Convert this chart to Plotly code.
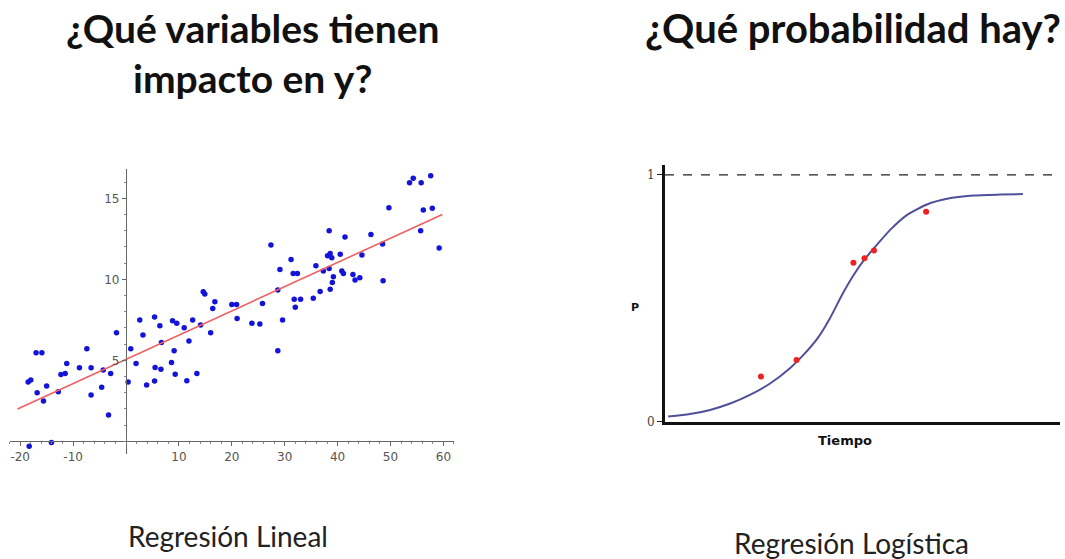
import plotly.graph_objects as go

W, H = 1065, 559

# ---------------- Left chart data (linear regression) ----------------
lin_x = [-18.5, -18.0, -17.0, -15.9, -16.8, -15.6, -15.0, -12.8, -12.3, -11.5,
         -11.2, -8.8, -7.4, -6.6, -6.6, -4.6, -4.3, -3.3, -2.9, -1.8,
         -18.3, -14.1, 0.9, 0.4, 1.9, 2.6, 3.2, 3.9, 5.4, 5.4,
         5.5, 6.4, 8.8, 9.6, 11.0, 12.6, 14.1, 14.6, 14.9, 16.8,
         16.4, 16.0, 11.9, 9.1, 6.7, 6.6, 8.6, 9.3, 11.5, 13.4,
         20.0, 20.9, 21.0, 23.8, 25.3, 25.8, 27.4, 29.1, 28.7, 29.6,
         28.7, 31.2, 31.6, 32.4, 31.8, 33.0, 32.0, 35.4, 35.9, 36.7,
         37.3, 38.1, 38.6, 38.9, 38.4, 38.4, 39.2, 39.0, 38.6, 40.5,
         40.8, 41.1, 41.4, 42.9, 43.3, 44.2, 44.6, 46.3, 48.5, 48.6,
         49.7, 53.6, 54.3, 55.8, 57.6, 55.7, 56.2, 57.9, 59.2]
lin_y = [3.66, 3.78, 5.47, 5.47, 3.00, 2.49, 3.41, 3.06, 4.13, 4.19,
         4.81, 4.54, 5.72, 4.54, 2.86, 3.33, 4.40, 1.62, 4.19, 6.70,
         -0.30, -0.08, 5.72, 3.66, 4.80, 7.49, 6.56, 3.47, 7.67, 3.72,
         4.56, 7.14, 7.44, 7.28, 7.01, 7.49, 7.18, 9.23, 9.09, 8.61,
         8.20, 6.70, 6.19, 5.59, 6.10, 4.45, 4.86, 4.14, 3.73, 4.19,
         8.45, 8.45, 7.58, 7.28, 7.24, 8.51, 12.12, 10.61, 9.34, 7.49,
         5.59, 11.22, 10.36, 10.36, 8.77, 8.77, 8.27, 8.83, 10.84, 9.24,
         10.51, 11.46, 11.60, 11.33, 13.00, 10.67, 10.16, 9.81, 9.38, 11.54,
         10.51, 10.36, 12.61, 10.30, 9.95, 10.10, 11.50, 12.76, 12.18, 9.91,
         14.42, 15.96, 16.23, 15.96, 16.39, 13.00, 14.28, 14.38, 11.93]
fit_x = [-20.5, 59.8]
fit_y = [2.0, 14.0]
lin_xticks = [-20, -10, 10, 20, 30, 40, 50, 60]
lin_xticklabels = ["-20", "-10", "10", "20", "30", "40", "50", "60"]
lin_yticks = [5, 10, 15]

# ---------------- Right chart data (logistic regression) ----------------
curve_t = [0.08, 0.63, 1.14, 1.65, 2.15, 2.66, 3.17, 3.54, 3.87, 4.18,
           4.48, 4.76, 5.04, 5.34, 5.70, 6.13, 6.63, 7.14, 7.80, 8.48,
           9.06]
curve_p = [0.020, 0.030, 0.047, 0.073, 0.108, 0.154, 0.217, 0.276, 0.339, 0.420,
           0.513, 0.590, 0.655, 0.712, 0.777, 0.838, 0.880, 0.903, 0.916, 0.920,
           0.922]
obs_t = [2.43, 3.33, 4.77, 5.05, 5.29, 6.61]
obs_p = [0.182, 0.249, 0.644, 0.662, 0.693, 0.850]
log_yticks = [0, 1]

# ---------------- geometry helpers ----------------
def px(v):
    return v / W

def py(v):
    return 1 - v / H

fig = go.Figure()

# left scatter
fig.add_trace(go.Scatter(x=lin_x, y=lin_y, mode="markers",
                         marker=dict(color="#1414d8", size=5.5),
                         xaxis="x", yaxis="y", showlegend=False))
fig.add_trace(go.Scatter(x=fit_x, y=fit_y, mode="lines",
                         line=dict(color="#f06060", width=1.6),
                         xaxis="x", yaxis="y", showlegend=False))

# right logistic
fig.add_trace(go.Scatter(x=curve_t, y=curve_p, mode="lines",
                         line=dict(color="#50509a", width=2, shape="spline", smoothing=0.6),
                         xaxis="x2", yaxis="y2", showlegend=False))
fig.add_trace(go.Scatter(x=obs_t, y=obs_p, mode="markers",
                         marker=dict(color="#ee2222", size=6),
                         xaxis="x2", yaxis="y2", showlegend=False))

# left axes: crossing at origin
xr = [-22, 62]
yr = [-0.8, 16.8]
x0_px = 126.0
sx = 5.29
y0_py = 441.3
sy = 16.2
xdom = [px(x0_px + sx * xr[0]), px(x0_px + sx * xr[1])]
ydom = [py(y0_py - sy * yr[0]), py(y0_py - sy * yr[1])]

tickfont = dict(family="DejaVu Sans", size=12, color="#555555")

fig.update_layout(
    width=W, height=H,
    margin=dict(l=0, r=0, t=0, b=0, autoexpand=False),
    paper_bgcolor="white", plot_bgcolor="rgba(0,0,0,0)",
    hovermode=False,
    xaxis=dict(domain=xdom, range=xr, anchor="free", position=py(y0_py),
               automargin=False,
               showline=True, linecolor="#666666", linewidth=1.2,
               showgrid=False, zeroline=False,
               tickvals=lin_xticks, ticktext=lin_xticklabels,
               ticks="outside", ticklen=4,
               tickcolor="#666666", tickfont=tickfont,
               minor=dict(dtick=2, ticks="outside", ticklen=2, tickcolor="#888888")),
    yaxis=dict(domain=ydom, range=yr, anchor="free", position=px(x0_px),
               automargin=False,
               showline=True, linecolor="#666666", linewidth=1.2,
               showgrid=False, zeroline=False,
               tickvals=lin_yticks, ticks="outside", ticklen=4,
               tickcolor="#666666", tickfont=tickfont,
               minor=dict(dtick=1, ticks="outside", ticklen=2, tickcolor="#888888")),
    xaxis2=dict(domain=[px(665), px(1060)], range=[0, 10], anchor="y2",
                automargin=False,
                showline=True, linecolor="#111111", linewidth=3,
                showgrid=False, zeroline=False, showticklabels=False, ticks=""),
    yaxis2=dict(domain=[py(421.5), py(165)], range=[0, 1.04], anchor="x2",
                automargin=False,
                showline=True, linecolor="#111111", linewidth=3,
                showgrid=False, zeroline=False,
                tickvals=log_yticks, ticktext=["0", "1"], ticks="outside", ticklen=5,
                tickcolor="#222222",
                tickfont=dict(family="DejaVu Serif", size=12, color="#444444")),
)

# dashed line at P = 1
fig.add_shape(type="line", xref="x2", yref="y2", x0=0, x1=10, y0=1, y1=1,
              line=dict(color="#222222", width=1.3, dash="dash"))

title_font = dict(family="Lato", size=39, color="#111111")
fig.add_annotation(text="<b>¿Qué variables tienen</b>", x=px(252), y=py(28),
                   xref="paper", yref="paper", showarrow=False, font=title_font,
                   xanchor="center", yanchor="middle")
fig.add_annotation(text="<b>impacto en y?</b>", x=px(252), y=py(78),
                   xref="paper", yref="paper", showarrow=False, font=title_font,
                   xanchor="center", yanchor="middle")
fig.add_annotation(text="<b>¿Qué probabilidad hay?</b>", x=px(853), y=py(28),
                   xref="paper", yref="paper", showarrow=False,
                   font=dict(family="Lato", size=40, color="#111111"),
                   xanchor="center", yanchor="middle")

sub_font = dict(family="Lato", size=28, color="#222222")
fig.add_annotation(text="Regresión Lineal", x=px(228), y=py(536),
                   xref="paper", yref="paper", showarrow=False, font=sub_font,
                   xanchor="center", yanchor="middle")
fig.add_annotation(text="Regresión Logística", x=px(851), y=py(543),
                   xref="paper", yref="paper", showarrow=False, font=sub_font,
                   xanchor="center", yanchor="middle")

small_bold = dict(family="DejaVu Sans", size=11, color="#111111")
fig.add_annotation(text="<b>P</b>", x=px(635), y=py(307), xref="paper", yref="paper",
                   showarrow=False, font=small_bold, xanchor="center", yanchor="middle")
fig.add_annotation(text="<b>Tiempo</b>", x=px(845), y=py(440), xref="paper", yref="paper",
                   showarrow=False, font=dict(family="DejaVu Sans", size=13, color="#111111"),
                   xanchor="center", yanchor="middle")

fig.write_html("out.html",
               config={"displayModeBar": False},
               post_script="document.body.style.margin='0';document.body.style.padding='0';document.body.style.overflow='hidden';")
